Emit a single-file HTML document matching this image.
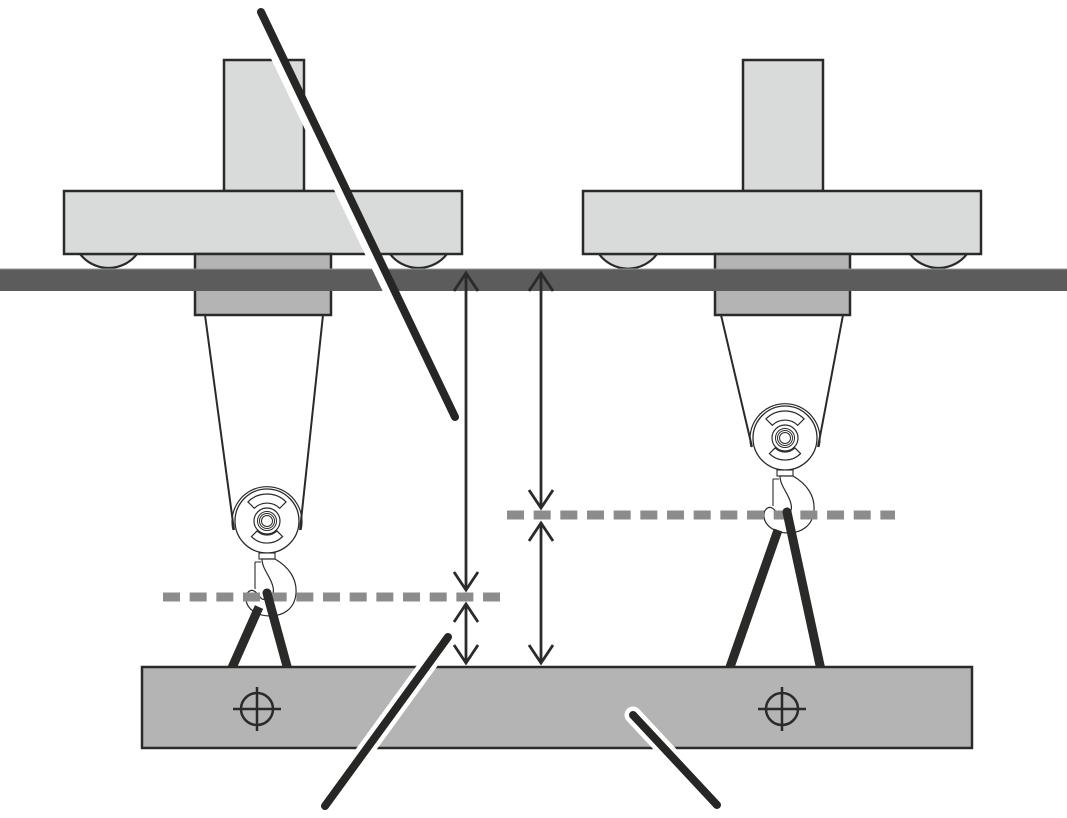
<!DOCTYPE html>
<html>
<head>
<meta charset="utf-8">
<style>
html,body{margin:0;padding:0;background:#fff;}
svg{display:block;}
</style>
</head>
<body>
<svg width="1067" height="818" viewBox="0 0 1067 818" xmlns="http://www.w3.org/2000/svg">
<defs>
  <g id="pulley">
    <!-- rope wrap arc -->
    <path d="M -34,9 A 35 35 0 1 1 34,9" fill="none" stroke="#2a2a28" stroke-width="1.2"/>
    <circle cx="0" cy="0" r="32" fill="#fff" stroke="#2a2a28" stroke-width="1.3"/>
    <!-- upper wedge -->
    <path d="M -19.1,-19.1 A 27 27 0 0 1 19.1,-19.1 L 12.7,-12.7 A 18 18 0 0 0 -12.7,-12.7 Z" fill="#fff" stroke="#2a2a28" stroke-width="1.2"/>
    <!-- lower wedge -->
    <path d="M -15.6,15.6 A 22 22 0 0 0 15.6,15.6 L 9.9,9.9 A 14 14 0 0 1 -9.9,9.9 Z" fill="#fff" stroke="#2a2a28" stroke-width="1.2"/>
    <circle cx="0" cy="0" r="13" fill="#fff" stroke="#2a2a28" stroke-width="1.2"/>
    <circle cx="0" cy="0" r="9.5" fill="none" stroke="#2a2a28" stroke-width="1"/>
    <circle cx="0" cy="0" r="7.5" fill="none" stroke="#2a2a28" stroke-width="1"/>
    <circle cx="0" cy="0" r="5.5" fill="#fff" stroke="#2a2a28" stroke-width="1"/>
    <!-- neck -->
    <rect x="-8" y="32" width="16" height="6" fill="#fff" stroke="#2a2a28" stroke-width="1.1"/>
    <!-- hook -->
    <path d="M -5,38 L 8,38 C 22,46 30,58 29,72 C 28,88 16,95 3,95 C -10,95 -20,88 -21,79 C -22,72 -17,68 -13,70 C -9,72 -8,76 -5,78 C 2,80 8,74 6,66 C 4,56 -5,48 -5,38 Z" fill="#fff" stroke="#2a2a28" stroke-width="1.2"/>
    <path d="M -12,41 L -12,68 M -12,41 L -6,41" fill="none" stroke="#2a2a28" stroke-width="1.1"/>
  </g>
  <g id="cross">
    <circle cx="0" cy="0" r="16" fill="none" stroke="#2a2a28" stroke-width="2.5"/>
    <line x1="-24" y1="0" x2="24" y2="0" stroke="#2a2a28" stroke-width="2.5"/>
    <line x1="0" y1="-22" x2="0" y2="22" stroke="#2a2a28" stroke-width="2.5"/>
  </g>
</defs>

<!-- LEFT CRANE -->
<rect x="224" y="60" width="80" height="131" fill="#d9dbda" stroke="#2a2a28" stroke-width="2.5"/>
<path d="M 80,254 A 36 36 0 0 0 137,254 Z" fill="#d9dbda" stroke="#2a2a28" stroke-width="2.2"/>
<path d="M 390,254 A 36 36 0 0 0 447,254 Z" fill="#d9dbda" stroke="#2a2a28" stroke-width="2.2"/>
<rect x="64" y="191" width="398" height="63" fill="#d9dbda" stroke="#2a2a28" stroke-width="2.5"/>
<rect x="195" y="254" width="136" height="61" fill="#b3b4b3" stroke="#2a2a28" stroke-width="2.5"/>

<!-- RIGHT CRANE -->
<rect x="743" y="60" width="80" height="131" fill="#d9dbda" stroke="#2a2a28" stroke-width="2.5"/>
<path d="M 599,254 A 36 36 0 0 0 657,254 Z" fill="#d9dbda" stroke="#2a2a28" stroke-width="2.2"/>
<path d="M 910,254 A 36 36 0 0 0 967,254 Z" fill="#d9dbda" stroke="#2a2a28" stroke-width="2.2"/>
<rect x="583" y="191" width="398" height="63" fill="#d9dbda" stroke="#2a2a28" stroke-width="2.5"/>
<rect x="715" y="254" width="135" height="61" fill="#b3b4b3" stroke="#2a2a28" stroke-width="2.5"/>

<!-- RAIL -->
<rect x="0" y="269" width="1067" height="22" fill="#5c5c5c"/>
<line x1="0" y1="269" x2="1067" y2="269" stroke="#9a9a9a" stroke-width="1"/>

<!-- ropes -->
<line x1="205" y1="315" x2="234" y2="530" stroke="#2a2a28" stroke-width="2"/>
<line x1="323" y1="315" x2="300" y2="530" stroke="#2a2a28" stroke-width="2"/>
<line x1="721" y1="315" x2="752" y2="447" stroke="#2a2a28" stroke-width="2"/>
<line x1="843" y1="315" x2="818" y2="447" stroke="#2a2a28" stroke-width="2"/>

<!-- pulleys + hooks -->
<use href="#pulley" transform="translate(267,521)"/>
<use href="#pulley" transform="translate(785,438)"/>

<!-- dashed lines -->
<line x1="163" y1="597" x2="500" y2="597" stroke="#8c8c8c" stroke-width="9" stroke-dasharray="17 9.67"/>
<line x1="507" y1="515" x2="895" y2="515" stroke="#8c8c8c" stroke-width="9" stroke-dasharray="17 9.67"/>

<!-- slings -->
<g stroke="#2a2a28" stroke-width="9" fill="none">
  <line x1="259" y1="607" x2="231" y2="670" stroke-linecap="butt"/>
  <line x1="267" y1="593" x2="288" y2="670" stroke-linecap="round"/>
  <line x1="778" y1="530" x2="729" y2="670" stroke-linecap="butt"/>
  <line x1="787" y1="512" x2="821" y2="670" stroke-linecap="round"/>
</g>

<!-- BEAM -->
<rect x="142" y="667" width="830" height="81" fill="#b3b4b3" stroke="#2a2a28" stroke-width="2.5"/>
<use href="#cross" transform="translate(257,709)"/>
<use href="#cross" transform="translate(782,709)"/>

<!-- dimension arrows -->
<g stroke="#2a2a28" stroke-width="2.8" fill="none" stroke-linecap="butt" stroke-linejoin="miter">
  <line x1="466" y1="273" x2="466" y2="589"/>
  <polyline points="454,291 466,273 478,291"/>
  <polyline points="454,572 466,590 478,572"/>
  <line x1="466" y1="604" x2="466" y2="662"/>
  <polyline points="454,622 466,604 478,622"/>
  <polyline points="454,645 466,663 478,645"/>

  <line x1="541" y1="273" x2="541" y2="507"/>
  <polyline points="529,291 541,273 553,291"/>
  <polyline points="529,490 541,508 553,490"/>
  <line x1="541" y1="523" x2="541" y2="662"/>
  <polyline points="529,541 541,523 553,541"/>
  <polyline points="529,645 541,663 553,645"/>
</g>

<!-- leader lines -->
<!-- top leader: halo on left side -->
<line x1="255" y1="16" x2="449" y2="420" stroke="#fff" stroke-width="8" stroke-linecap="butt"/>
<line x1="261" y1="12" x2="455" y2="417" stroke="#262624" stroke-width="8" stroke-linecap="round"/>
<!-- bottom-left leader -->
<line x1="325" y1="806" x2="448" y2="637" stroke="#fff" stroke-width="17" stroke-linecap="round"/>
<line x1="325" y1="806" x2="448" y2="637" stroke="#262624" stroke-width="8" stroke-linecap="round"/>
<!-- bottom-right leader -->
<line x1="633" y1="715" x2="717" y2="805" stroke="#fff" stroke-width="17" stroke-linecap="round"/>
<line x1="633" y1="715" x2="717" y2="805" stroke="#262624" stroke-width="8" stroke-linecap="round"/>
</svg>
</body>
</html>
